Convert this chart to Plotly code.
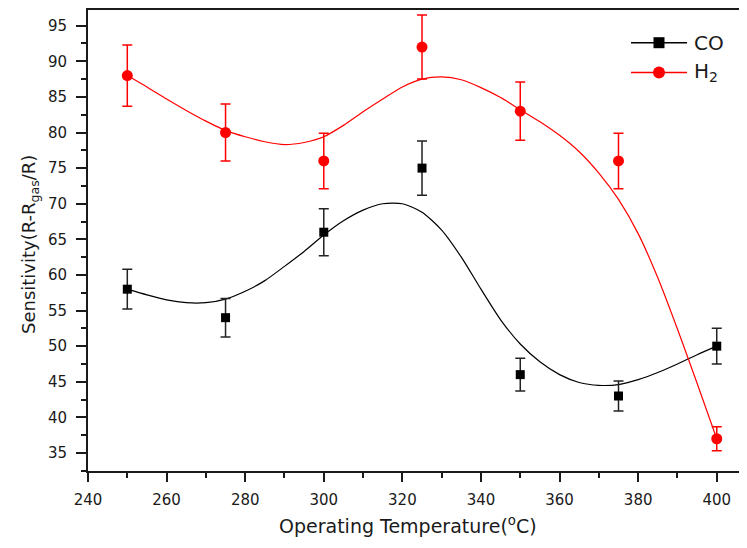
import plotly.graph_objects as go

# measured points
temps = [250, 275, 300, 325, 350, 375, 400]
co_vals = [58, 54, 66, 75, 46, 43, 50]
co_err = [2.8, 2.7, 3.3, 3.8, 2.3, 2.1, 2.5]
h2_vals = [88, 80, 76, 92, 83, 76, 37]
h2_err = [4.3, 4.0, 3.9, 4.5, 4.1, 3.9, 1.7]

# fitted curves
curve_t = [250, 255, 260, 265, 270, 275, 280, 285, 290, 295, 300, 305, 310, 315,
           320, 325, 330, 335, 340, 345, 350, 355, 360, 365, 370, 375, 380, 385,
           390, 395, 400]
co_curve = [58.0, 57.2, 56.5, 56.1, 56.1, 56.6, 57.7, 59.2, 61.2, 63.3, 65.6, 67.6,
            69.1, 70.0, 70.0, 68.8, 66.3, 62.5, 58.0, 53.7, 50.3, 47.8, 46.0, 44.9,
            44.5, 44.6, 45.3, 46.3, 47.5, 48.8, 50.0]
h2_curve = [88.0, 86.4, 84.7, 83.1, 81.6, 80.3, 79.4, 78.7, 78.3, 78.6, 79.4, 81.0,
            82.9, 84.7, 86.4, 87.5, 87.8, 87.4, 86.3, 84.9, 83.2, 81.5, 79.6, 77.3,
            74.3, 70.6, 65.8, 59.6, 52.4, 44.8, 37.0]

x_ticks = [240, 260, 280, 300, 320, 340, 360, 380, 400]
y_ticks = [35, 40, 45, 50, 55, 60, 65, 70, 75, 80, 85, 90, 95]
series_names = ["CO", "H<sub>2</sub>"]

BLACK = "#000000"
RED = "#ff0000"
INK = "#1a1a1a"
FONT = "DejaVu Sans, Verdana, sans-serif"

OFF = 8  # page body margin
W, H = 747 - OFF, 548 - OFF
L, R, T, B = 88 - OFF, 0, 10 - OFF, 77
PW, PH = W - L - R, H - T - B


def px(x):
    return (x - OFF - L) / PW


def py(y):
    return (H - B - (y - OFF)) / PH


fig = go.Figure()
fig.add_trace(go.Scatter(x=curve_t, y=co_curve, mode="lines",
                         line=dict(color=BLACK, width=1.2, shape="spline", smoothing=0.7),
                         showlegend=False, hoverinfo="skip"))
fig.add_trace(go.Scatter(x=curve_t, y=h2_curve, mode="lines",
                         line=dict(color=RED, width=1.2, shape="spline", smoothing=0.7),
                         showlegend=False, hoverinfo="skip"))
fig.add_trace(go.Scatter(x=temps, y=co_vals, mode="markers", name="CO",
                         marker=dict(symbol="square", size=9, color=BLACK),
                         error_y=dict(type="data", array=co_err, color="#222222", thickness=1.5, width=5),
                         showlegend=False))
fig.add_trace(go.Scatter(x=temps, y=h2_vals, mode="markers", name="H2",
                         marker=dict(symbol="circle", size=11, color=RED),
                         error_y=dict(type="data", array=h2_err, color=RED, thickness=1.5, width=5),
                         showlegend=False))

# custom legend (line sample + marker + label)
shapes = []
annotations = []
legend_rows = [(42.7, BLACK, "square"), (72.4, RED, "circle")]
for (yc, col, sym), name in zip(legend_rows, series_names):
    shapes.append(dict(type="line", xref="paper", yref="paper",
                       x0=px(631), x1=px(687), y0=py(yc), y1=py(yc),
                       line=dict(color=col, width=1.5)))
    s = 5.5 if sym == "square" else 6
    shapes.append(dict(type="rect" if sym == "square" else "circle", xref="paper", yref="paper",
                       x0=px(659 - s), x1=px(659 + s), y0=py(yc - s), y1=py(yc + s),
                       fillcolor=col, line=dict(color=col, width=0)))
    annotations.append(dict(text=name, xref="paper", yref="paper", x=px(692), y=py(yc),
                            xanchor="left", yanchor="middle", showarrow=False,
                            font=dict(family=FONT, size=20, color=INK)))

annotations.append(dict(text="Operating Temperature(<sup>o</sup>C)", xref="paper", yref="paper",
                        x=px(408), y=py(525), xanchor="center", yanchor="middle", showarrow=False,
                        font=dict(family=FONT, size=19, color=INK)))
annotations.append(dict(text="Sensitivity(R-R<sub>gas</sub>/R)", xref="paper", yref="paper",
                        x=px(30), y=py(245), xanchor="center", yanchor="middle", showarrow=False,
                        textangle=-90, font=dict(family=FONT, size=18, color=INK)))

tick_font = dict(family=FONT, size=15, color=INK)
fig.update_layout(
    width=W, height=H,
    margin=dict(l=L, r=R, t=T, b=B),
    paper_bgcolor="white", plot_bgcolor="white",
    font=dict(family=FONT, color=INK),
    showlegend=False,
    shapes=shapes,
    annotations=annotations,
    xaxis=dict(range=[240, 407.7], tickvals=x_ticks, ticks="outside", ticklen=9, tickwidth=1.5,
               tickcolor=INK, showline=True, linecolor=INK, linewidth=2, mirror=True,
               showgrid=False, zeroline=False, tickfont=tick_font, automargin=False,
               ticklabelstandoff=5,
               minor=dict(dtick=10, tick0=240, ticks="outside", ticklen=5, tickwidth=1.5, tickcolor=INK)),
    yaxis=dict(range=[32.47, 97.2], tickvals=y_ticks, ticks="outside", ticklen=10, tickwidth=1.5,
               tickcolor=INK, showline=True, linecolor=INK, linewidth=2, mirror=True,
               showgrid=False, zeroline=False, tickfont=tick_font, automargin=False,
               ticklabelstandoff=6,
               minor=dict(dtick=2.5, tick0=35, ticks="outside", ticklen=5, tickwidth=1.5, tickcolor=INK)),
)

fig.write_html("out.html")
